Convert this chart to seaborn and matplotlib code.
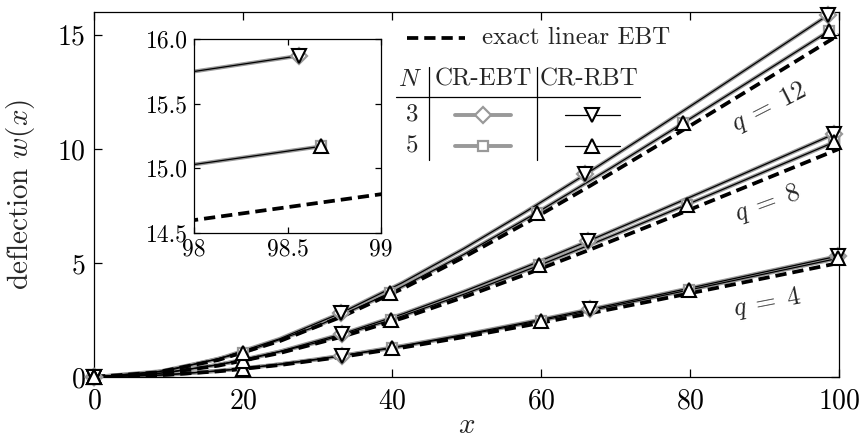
import matplotlib
matplotlib.use("Agg")
import matplotlib.pyplot as plt
from matplotlib.lines import Line2D
import seaborn as sns

# exact linear EBT, sampled every L/12
x_lin = [0, 8.33, 16.67, 25, 33.33, 41.67, 50, 58.33, 66.67, 75, 83.33, 91.67, 100]
w_lin_q4 = [0, 0.066, 0.248, 0.527, 0.885, 1.304, 1.771, 2.272, 2.798, 3.340, 3.890, 4.444, 5.0]
w_lin_q8 = [0, 0.131, 0.496, 1.055, 1.770, 2.608, 3.542, 4.545, 5.597, 6.680, 7.780, 8.889, 10.0]
w_lin_q12 = [0, 0.197, 0.745, 1.582, 2.654, 3.912, 5.313, 6.817, 8.395, 10.020, 11.671, 13.333, 15.0]

# corotational solutions, N = 3 elements (nodes every 4th sample)
x3_q4 = [0, 8.33, 16.66, 24.99, 33.32, 41.64, 49.96, 58.27, 66.59, 74.90, 83.21, 91.53, 99.84]
w3_q4 = [0, 0.070, 0.263, 0.559, 0.938, 1.382, 1.877, 2.409, 2.966, 3.540, 4.124, 4.711, 5.30]
x3_q8 = [0, 8.33, 16.66, 24.97, 33.27, 41.55, 49.83, 58.09, 66.35, 74.60, 82.85, 91.10, 99.35]
w3_q8 = [0, 0.140, 0.529, 1.123, 1.885, 2.778, 3.772, 4.840, 5.960, 7.114, 8.286, 9.467, 10.65]
x3_q12 = [0, 8.33, 16.64, 24.93, 33.18, 41.41, 49.61, 57.79, 65.96, 74.12, 82.27, 90.41, 98.56]
w3_q12 = [0, 0.208, 0.788, 1.674, 2.808, 4.139, 5.621, 7.213, 8.882, 10.601, 12.348, 14.107, 15.87]

# corotational solutions, N = 5 elements (nodes every 2nd sample)
x5_q4 = [0, 10.0, 20.0, 29.99, 39.98, 49.96, 59.94, 69.92, 79.89, 89.87, 99.85]
w5_q4 = [0, 0.097, 0.363, 0.763, 1.265, 1.842, 2.471, 3.134, 3.816, 4.507, 5.20]
x5_q8 = [0, 10.0, 19.98, 29.95, 39.90, 49.84, 59.76, 69.67, 79.58, 89.49, 99.39]
w5_q8 = [0, 0.193, 0.720, 1.511, 2.505, 3.648, 4.895, 6.208, 7.559, 8.927, 10.30]
x5_q12 = [0, 9.995, 19.96, 29.90, 39.79, 49.65, 59.48, 69.29, 79.09, 88.89, 98.68]
w5_q12 = [0, 0.284, 1.060, 2.225, 3.689, 5.373, 7.209, 9.143, 11.132, 13.147, 15.17]

q_labels = [r"$q\;=\;4$", r"$q\;=\;8$", r"$q\;=\;12$"]
main_xticks = [0, 20, 40, 60, 80, 100]
main_yticks = [0, 5, 10, 15]
inset_xticks = [98, 98.5, 99]
inset_xlabels = ["98", "98.5", "99"]
inset_yticks = [14.5, 15.0, 15.5, 16.0]
inset_ylabels = ["14.5", "15.0", "15.5", "16.0"]

GRAY = "#999999"

sns.set_theme(style="ticks")
plt.rcParams.update({
    "font.family": "cmr10",
    "mathtext.fontset": "cm",
    "axes.formatter.use_mathtext": True,
    "axes.unicode_minus": False,
    "xtick.direction": "in",
    "ytick.direction": "in",
    "xtick.top": True,
    "ytick.right": True,
    "axes.linewidth": 0.9,
    "axes.edgecolor": "black",
    "xtick.color": "black",
    "ytick.color": "black",
})

curves3 = [(x3_q4, w3_q4), (x3_q8, w3_q8), (x3_q12, w3_q12)]
curves5 = [(x5_q4, w5_q4), (x5_q8, w5_q8), (x5_q12, w5_q12)]
linear = [w_lin_q4, w_lin_q8, w_lin_q12]


def draw(ax, clip):
    for x, w in curves3 + curves5:
        sns.lineplot(x=x, y=w, ax=ax, color=GRAY, lw=2.8, zorder=2, legend=False)
    for x, w in curves3 + curves5:
        sns.lineplot(x=x, y=w, ax=ax, color="black", lw=0.9, zorder=2.2, legend=False)
    for w in linear:
        sns.lineplot(x=x_lin, y=w, ax=ax, color="black", lw=2.7,
                     linestyle=(0, (3, 1.6)), zorder=3, legend=False)
    for x, w in curves3:
        ax.plot(x[::4], w[::4], ls="none", marker="D", ms=8.5, mfc="white",
                mec=GRAY, mew=1.6, zorder=4, clip_on=clip)
    for x, w in curves5:
        ax.plot(x[::2], w[::2], ls="none", marker="s", ms=7.5, mfc="white",
                mec=GRAY, mew=1.6, zorder=4, clip_on=clip)
    for x, w in curves3:
        ax.plot(x[::4], w[::4], ls="none", marker="v", ms=9.5, mfc="white",
                mec="black", mew=1.5, zorder=5, clip_on=clip)
    for x, w in curves5:
        ax.plot(x[::2], w[::2], ls="none", marker="^", ms=9.5, mfc="white",
                mec="black", mew=1.5, zorder=5, clip_on=clip)


fig = plt.figure(figsize=(8.64, 4.41), dpi=100)
ax = fig.add_axes([94 / 864, 64 / 441, 745 / 864, 365 / 441])
draw(ax, clip=False)
ax.set_xlim(0, 100)
ax.set_ylim(0, 16)
ax.set_xticks(main_xticks)
ax.set_yticks(main_yticks)
ax.tick_params(labelsize=20, length=6, width=0.9)
ax.tick_params(axis="x", pad=8)
ax.tick_params(axis="y", pad=6)
ax.set_xlabel("$x$", fontsize=21)
ax.set_ylabel("deflection $w(x)$", fontsize=21)
ax.xaxis.set_label_coords(0.5, -0.098)
ax.yaxis.set_label_coords(-0.076, 0.5)

# load labels
ax.text(90.6, 11.8, q_labels[2], rotation=27, ha="center", va="center", fontsize=19)
ax.text(90.4, 7.6, q_labels[1], rotation=20, ha="center", va="center", fontsize=19)
ax.text(90.4, 3.25, q_labels[0], rotation=11, ha="center", va="center", fontsize=19)

# tabular legend
T = ax.transAxes
ax.add_line(Line2D([0.420, 0.498], [0.929, 0.929], transform=T, color="black",
                   lw=2.7, linestyle=(0, (3, 1.6))))
ax.text(0.521, 0.929, "exact linear EBT", transform=T, ha="left", va="center", fontsize=18)
ax.text(0.424, 0.814, "$N$", transform=T, ha="center", va="center", fontsize=18)
ax.text(0.522, 0.814, "CR-EBT", transform=T, ha="center", va="center", fontsize=18)
ax.text(0.664, 0.814, "CR-RBT", transform=T, ha="center", va="center", fontsize=18)
ax.add_line(Line2D([0.4497, 0.4497], [0.595, 0.849], transform=T, color="black", lw=0.9))
ax.add_line(Line2D([0.595, 0.595], [0.595, 0.849], transform=T, color="black", lw=0.9))
ax.add_line(Line2D([0.405, 0.733], [0.767, 0.767], transform=T, color="black", lw=0.9))
for label, yy, m_ebt, m_rbt, ms_ebt in [("3", 0.718, "D", "v", 8.5), ("5", 0.633, "s", "^", 7.5)]:
    ax.text(0.427, yy, label, transform=T, ha="center", va="center", fontsize=18)
    ax.add_line(Line2D([0.4846, 0.5597], [yy, yy], transform=T, color=GRAY, lw=2.8))
    ax.add_line(Line2D([0.522], [yy], transform=T, ls="none", marker=m_ebt, ms=ms_ebt,
                       mfc="white", mec=GRAY, mew=1.6))
    ax.add_line(Line2D([0.632, 0.706], [yy, yy], transform=T, color="black", lw=0.9))
    ax.add_line(Line2D([0.668], [yy], transform=T, ls="none", marker=m_rbt, ms=9.5,
                       mfc="white", mec="black", mew=1.5))

# inset
axin = fig.add_axes([194 / 864, 208 / 441, 187 / 864, 194 / 441])
axin.set_facecolor("white")
draw(axin, clip=True)
axin.set_xlim(98, 99)
axin.set_ylim(14.5, 16.0)
axin.set_xticks(inset_xticks)
axin.set_xticklabels(inset_xlabels)
axin.set_yticks(inset_yticks)
axin.set_yticklabels(inset_ylabels)
axin.set_xlabel("")
axin.set_ylabel("")
axin.tick_params(labelsize=17, length=4, width=0.9, pad=4)

fig.savefig("out.png", dpi=100)
